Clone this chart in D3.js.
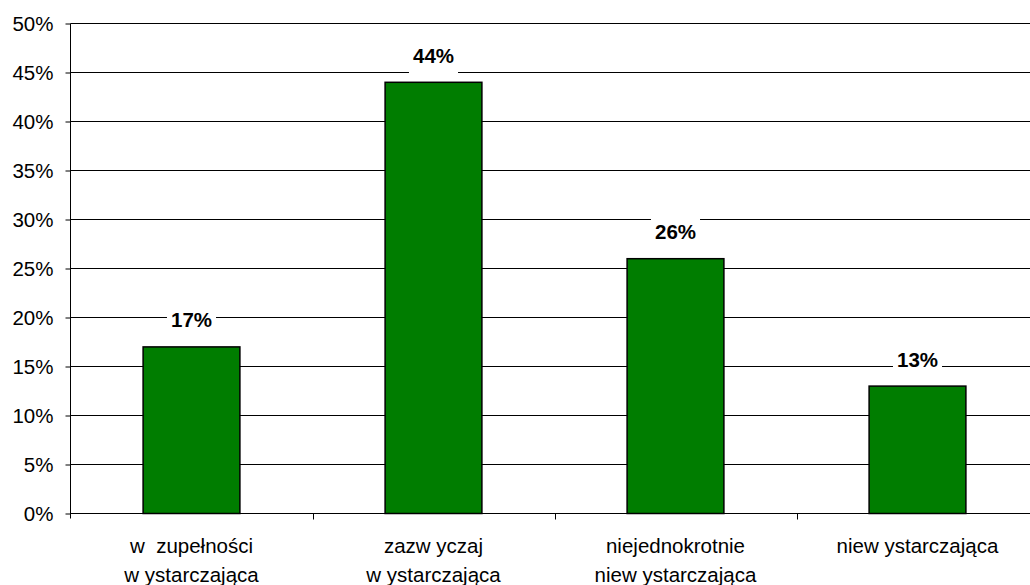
<!DOCTYPE html>
<html>
<head>
<meta charset="utf-8">
<script src="https://cdn.jsdelivr.net/npm/d3@7"></script>
<style>
body { margin: 0; background: #fff; }
svg { display: block; font-family: "Liberation Sans", Arial, sans-serif; }
</style>
</head>
<body>
<svg id="chart" width="1030" height="585"></svg>
<script>
//categories (each label is split in lines on \n)
var categories = ["w  zupełności\nw ystarczająca", "zazw yczaj\nw ystarczająca", "niejednokrotnie\nniew ystarczająca", "niew ystarczająca"];
var values = [0.17, 0.44, 0.26, 0.13];//share of answers
var yTicks = [0, 0.05, 0.10, 0.15, 0.20, 0.25, 0.30, 0.35, 0.40, 0.45, 0.50];//y tick values

var svg = d3.select("#chart");
var plotLeft = 70.5, plotRight = 1038.5, plotTop = 23.5, plotBottom = 513.5;//plot area (right side runs past the picture)
var fontSize = 20.5;

var x = d3.scaleBand()//bars
.domain(categories)
.range([plotLeft, plotRight])
.paddingInner(0.6)
.paddingOuter(0.3);

var x0 = d3.scaleBand()//category slots, used for the ticks between them
.domain(categories)
.range([plotLeft, plotRight]);

var y = d3.scaleLinear()
.domain([0, 0.5])
.range([plotBottom, plotTop]);

//gridlines
svg.append("g")
.selectAll("line")
.data(yTicks.slice(1))
.enter().append("line")
.attr("x1", plotLeft)
.attr("x2", 1030)
.attr("y1", function(d) { return Math.round(y(d) - 0.5) + 0.5; })
.attr("y2", function(d) { return Math.round(y(d) - 0.5) + 0.5; })
.attr("stroke", "#000")
.attr("stroke-width", 1);

//y axis
var yAxis = svg.append("g")
.attr("transform", "translate(" + plotLeft + ",0)")
.call(d3.axisLeft(y).tickValues(yTicks).tickFormat(d3.format(".0%")).tickSize(5).tickPadding(12));
yAxis.select(".domain").attr("d", "M0," + plotTop + "V" + (plotBottom + 5));
yAxis.selectAll("line").attr("stroke", "#000");
yAxis.selectAll("text")
.attr("font-family", "Liberation Sans, Arial, sans-serif")
.attr("font-size", fontSize)
.attr("fill", "#000");

//x axis line and ticks between categories
svg.append("line")
.attr("x1", plotLeft).attr("x2", 1030)
.attr("y1", plotBottom).attr("y2", plotBottom)
.attr("stroke", "#000");

svg.append("g")
.selectAll("line")
.data(categories.slice(1))
.enter().append("line")
.attr("x1", function(d) { return Math.round(x0(d)) + 0.5; })
.attr("x2", function(d) { return Math.round(x0(d)) + 0.5; })
.attr("y1", plotBottom)
.attr("y2", plotBottom + 6)
.attr("stroke", "#000");

//category labels
svg.append("g")
.selectAll("text")
.data(categories)
.enter().append("text")
.attr("text-anchor", "middle")
.attr("font-size", fontSize)
.attr("fill", "#000")
.style("white-space", "pre")
.each(function(d) {
	var t = d3.select(this);
	d.split("\n").forEach(function(line, i) {
		t.append("tspan")
		.attr("x", x0(d) + x0.bandwidth() / 2)
		.attr("y", 553 + i * 29)
		.text(line);
	});
});

//bars
svg.append("g")
.selectAll("rect")
.data(values)
.enter().append("rect")
.attr("x", function(d, i) { return x(categories[i]); })
.attr("width", x.bandwidth())
.attr("y", function(d) { return y(d); })
.attr("height", function(d) { return y(0) - y(d); })
.attr("fill", "#007d00")
.attr("stroke", "#000")
.attr("stroke-width", 1.5);

//value labels with white box over the gridlines
var labels = svg.append("g")
.selectAll("g")
.data(values)
.enter().append("g");

labels.each(function(d, i) {
	var g = d3.select(this);
	var cx = x(categories[i]) + x.bandwidth() / 2;
	var base = y(d) - 19.5;
	var box = g.append("rect").attr("fill", "#fff");
	var txt = g.append("text")
	.attr("x", cx)
	.attr("y", base)
	.attr("text-anchor", "middle")
	.attr("font-size", fontSize)
	.attr("font-weight", "bold")
	.attr("fill", "#000")
	.text(d3.format(".0%")(d));
	var w = txt.node().getComputedTextLength() + 8;
	box.attr("x", cx - w / 2)
	.attr("width", w)
	.attr("y", base - 21)
	.attr("height", 34);
});
</script>
</body>
</html>
